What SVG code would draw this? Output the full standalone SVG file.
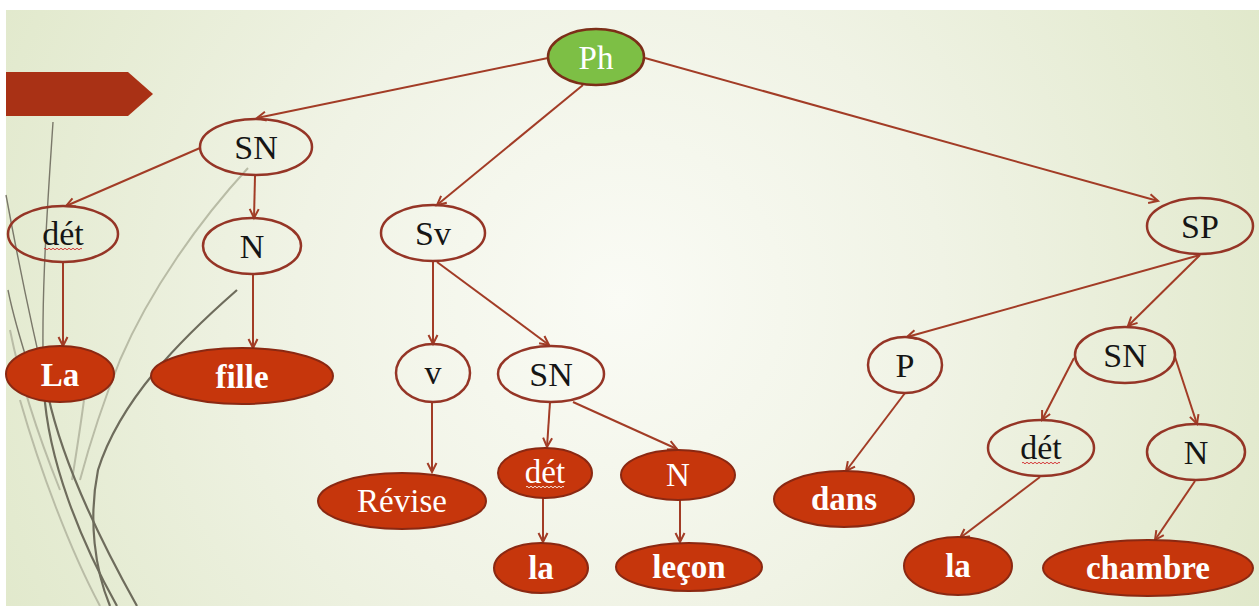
<svg xmlns="http://www.w3.org/2000/svg" width="1259" height="606" viewBox="0 0 1259 606">
<defs>
<radialGradient id="bg" cx="620" cy="300" r="720" gradientUnits="userSpaceOnUse">
<stop offset="0" stop-color="#fafbf5"/>
<stop offset="0.45" stop-color="#f0f3e5"/>
<stop offset="1" stop-color="#e0e8ca"/>
</radialGradient>
<marker id="arr" markerWidth="14" markerHeight="14" refX="11" refY="6" orient="auto" markerUnits="userSpaceOnUse">
<path d="M2,1.5 L11,6 L2,10.5" fill="none" stroke="#a23c26" stroke-width="2"/>
</marker>
<style>
.e{fill:none;stroke:#a23c26;stroke-width:2;marker-end:url(#arr)}
.o{fill:none;stroke:#953526;stroke-width:2.5}
.f{fill:#c6360c;stroke:#8a2812;stroke-width:2}
.t{font-family:"Liberation Serif","Times New Roman","DejaVu Serif",serif;font-size:34px;text-anchor:middle;fill:#151515}
.w{font-family:"Liberation Serif","Times New Roman","DejaVu Serif",serif;font-size:33px;text-anchor:middle;fill:#ffffff}
.b{font-weight:bold}
.deco{fill:none;stroke:#6e6c5c;stroke-width:2.2}
.decot{fill:none;stroke:#7a786a;stroke-width:1.4}
.decol{fill:none;stroke:#b9bca6;stroke-width:2}
.wav{fill:none;stroke:#d43a3a;stroke-width:1}
.wavw{fill:none;stroke:#f4e0d8;stroke-width:1}
</style>
</defs>
<rect x="0" y="0" width="1259" height="606" fill="#ffffff"/>
<rect x="6" y="10" width="1253" height="596" fill="url(#bg)"/>
<g id="decoration">
<path class="decol" d="M248,168 C200,220 150,290 120,360 C100,410 88,450 80,480"/>
<path class="decol" d="M20,400 C40,470 70,550 100,606"/>
<path class="decol" d="M84,400 C80,430 76,455 72,480"/>
<path class="decol" d="M10,330 C20,380 40,440 60,490"/>
<path class="decot" d="M53,122 C48,200 40,300 44,390"/>
<path class="deco" d="M44,390 C48,460 80,540 117,606"/>
<path class="decot" d="M6,195 C18,260 30,320 48,395"/>
<path class="deco" d="M48,395 C62,460 100,540 137,606"/>
<path class="decot" d="M8,290 C14,320 22,345 30,370"/>
<path class="deco" d="M237,290 C180,340 120,400 98,470 C88,520 95,570 110,606" stroke-width="1.8"/>
<path d="M6,72 L128,72 L153,94 L128,116 L6,116 Z" fill="#a93115"/>
</g>
<g id="connectors">
<line class="e" x1="548" y1="58" x2="257" y2="118"/>
<line class="e" x1="583" y1="85" x2="437" y2="205"/>
<line class="e" x1="645" y1="58" x2="1158" y2="201"/>
<line class="e" x1="200" y1="148" x2="66" y2="206"/>
<line class="e" x1="255" y1="176" x2="254" y2="218"/>
<line class="e" x1="63" y1="262" x2="63" y2="346"/>
<line class="e" x1="253" y1="275" x2="253" y2="348"/>
<line class="e" x1="433" y1="262" x2="433" y2="344"/>
<line class="e" x1="437" y1="262" x2="549" y2="345"/>
<line class="e" x1="432" y1="402" x2="432" y2="472"/>
<line class="e" x1="550" y1="402" x2="547" y2="447"/>
<line class="e" x1="573" y1="402" x2="677" y2="449"/>
<line class="e" x1="543" y1="498" x2="543" y2="542"/>
<line class="e" x1="680" y1="500" x2="680" y2="542"/>
<line class="e" x1="1200" y1="255" x2="907" y2="337"/>
<line class="e" x1="1200" y1="255" x2="1128" y2="326"/>
<line class="e" x1="905" y1="393" x2="846" y2="471"/>
<line class="e" x1="1074" y1="358" x2="1042" y2="420"/>
<line class="e" x1="1175" y1="357" x2="1197" y2="424"/>
<line class="e" x1="1040" y1="477" x2="960" y2="538"/>
<line class="e" x1="1195" y1="481" x2="1155" y2="540"/>
</g>
<g id="n-ph"><ellipse cx="596" cy="57" rx="48" ry="28" fill="#7dbf45" stroke="#7c2e18" stroke-width="2.5"/><text class="w" x="596" y="69" font-size="36">Ph</text></g>
<g id="n-sn1"><ellipse class="o" cx="256" cy="147" rx="56" ry="28"/><text class="t" x="256" y="159">SN</text></g>
<g id="n-det1"><ellipse class="o" cx="63" cy="234" rx="55" ry="28"/><text class="t" x="63" y="245">dét</text><path class="wav" d="M44,249 q1,-1.5 2,0 t2,0 t2,0 t2,0 t2,0 t2,0 t2,0 t2,0 t2,0 t2,0 t2,0 t2,0 t2,0 t2,0 t2,0 t2,0 t2,0 t2,0 t2,0"/></g>
<g id="n-n1"><ellipse class="o" cx="252" cy="246" rx="49" ry="28"/><text class="t" x="252" y="258">N</text></g>
<g id="n-la1"><ellipse class="f" cx="60" cy="374" rx="54" ry="28"/><text class="w b" x="60" y="386">La</text></g>
<g id="n-fille"><ellipse class="f" cx="242" cy="376" rx="91" ry="28"/><text class="w b" x="242" y="388">fille</text></g>
<g id="n-sv"><ellipse class="o" cx="433" cy="233" rx="52" ry="28"/><text class="t" x="433" y="245">Sv</text></g>
<g id="n-v"><ellipse class="o" cx="433" cy="373" rx="37" ry="29"/><text class="t" x="433" y="384">v</text></g>
<g id="n-sn2"><ellipse class="o" cx="551" cy="374" rx="53" ry="28"/><text class="t" x="551" y="386">SN</text></g>
<g id="n-revise"><ellipse class="f" cx="402" cy="501" rx="84" ry="28"/><text class="w" x="402" y="512">Révise</text></g>
<g id="n-det2"><ellipse class="f" cx="545" cy="473" rx="47" ry="25"/><text class="w" x="545" y="483">dét</text><path class="wavw" d="M526,487 q1,-1.5 2,0 t2,0 t2,0 t2,0 t2,0 t2,0 t2,0 t2,0 t2,0 t2,0 t2,0 t2,0 t2,0 t2,0 t2,0 t2,0 t2,0 t2,0 t2,0"/></g>
<g id="n-n2"><ellipse class="f" cx="678" cy="475" rx="57" ry="25"/><text class="w" x="678" y="486">N</text></g>
<g id="n-la2"><ellipse class="f" cx="541" cy="568" rx="47" ry="25"/><text class="w b" x="541" y="579">la</text></g>
<g id="n-lecon"><ellipse class="f" cx="689" cy="567" rx="73" ry="24"/><text class="w b" x="689" y="578">leçon</text></g>
<g id="n-sp"><ellipse class="o" cx="1200" cy="226" rx="53" ry="28"/><text class="t" x="1200" y="238">SP</text></g>
<g id="n-p"><ellipse class="o" cx="905" cy="365" rx="37" ry="28"/><text class="t" x="905" y="377">P</text></g>
<g id="n-sn3"><ellipse class="o" cx="1125" cy="355" rx="50" ry="28"/><text class="t" x="1125" y="367">SN</text></g>
<g id="n-dans"><ellipse class="f" cx="844" cy="499" rx="70" ry="28"/><text class="w b" x="844" y="510">dans</text></g>
<g id="n-det3"><ellipse class="o" cx="1041" cy="448" rx="53" ry="28"/><text class="t" x="1041" y="459">dét</text><path class="wav" d="M1022,463 q1,-1.5 2,0 t2,0 t2,0 t2,0 t2,0 t2,0 t2,0 t2,0 t2,0 t2,0 t2,0 t2,0 t2,0 t2,0 t2,0 t2,0 t2,0 t2,0 t2,0"/></g>
<g id="n-n3"><ellipse class="o" cx="1196" cy="452" rx="49" ry="28"/><text class="t" x="1196" y="464">N</text></g>
<g id="n-la3"><ellipse class="f" cx="958" cy="566" rx="54" ry="29"/><text class="w b" x="958" y="577">la</text></g>
<g id="n-chambre"><ellipse class="f" cx="1148" cy="568" rx="105" ry="28"/><text class="w b" x="1148" y="579">chambre</text></g>
</svg>
